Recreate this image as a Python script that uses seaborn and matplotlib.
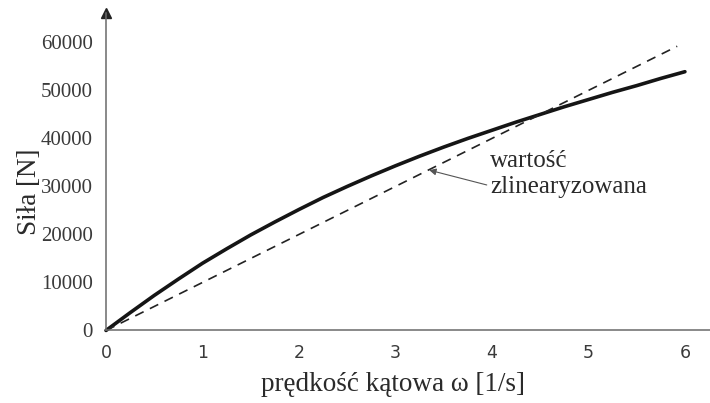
import matplotlib
matplotlib.use("Agg")
import matplotlib.pyplot as plt
import seaborn as sns
import pandas as pd

# angular velocity [1/s] and force [N]
omega = [0, 0.25, 0.5, 0.75, 1, 1.25, 1.5, 1.75, 2, 2.25, 2.5, 2.75, 3,
         3.25, 3.5, 3.75, 4, 4.25, 4.5, 4.75, 5, 5.25, 5.5, 5.75, 6]
force = [0, 3700, 7300, 10700, 14000, 17000, 19900, 22600, 25200, 27700, 30000, 32200, 34300,
         36300, 38200, 40000, 41700, 43400, 45000, 46600, 48100, 49600, 51000, 52500, 53900]

# linearised characteristic
lin_omega = [0, 5.92]
lin_force = [0, 59200]

x_ticks = [0, 1, 2, 3, 4, 5, 6]
y_ticks = [0, 10000, 20000, 30000, 40000, 50000, 60000]

sns.set_style("white")
plt.rcParams["font.family"] = ["Liberation Serif", "DejaVu Serif"]

fig = plt.figure(figsize=(7.10, 4.03), dpi=100)
ax = fig.add_axes([0.1493, 0.180, 0.8507, 0.788])

df = pd.DataFrame({"omega": omega, "force": force})
dfl = pd.DataFrame({"omega": lin_omega, "force": lin_force})

sns.lineplot(data=df, x="omega", y="force", ax=ax, color="#151515", lw=2.6, clip_on=False)
sns.lineplot(data=dfl, x="omega", y="force", ax=ax, color="#222222", lw=1.2,
             clip_on=False).lines[-1].set_dashes((5.6, 4.2))

ax.set_xlim(0, 6.26)
ax.set_ylim(0, 66150)

for s in ["top", "right"]:
    ax.spines[s].set_visible(False)
for s in ["left", "bottom"]:
    ax.spines[s].set_color("#6a6a6a")
    ax.spines[s].set_linewidth(1.1)

# arrow tip on the vertical axis
ax.plot([0], [1.0], marker="^", markersize=7, color="#222222",
        transform=ax.transAxes, clip_on=False)

ax.set_xticks(x_ticks)
ax.set_xticklabels([str(v) for v in x_ticks], family="DejaVu Sans", fontsize=12.5, color="#3a3a3a")
ax.set_yticks(y_ticks)
ax.set_yticklabels([str(v) for v in y_ticks], fontsize=15, color="#3a3a3a")
ax.tick_params(axis="x", direction="inout", length=7, width=1, color="#6a6a6a", pad=6)
ax.tick_params(axis="y", direction="inout", length=7, width=1, color="#6a6a6a", pad=6)

ax.set_xlabel("prędkość kątowa ω [1/s]", fontsize=19.5, color="#2a2a2a")
ax.set_ylabel("Siła [N]", fontsize=19.5, color="#2a2a2a")
ax.xaxis.set_label_coords(0.475, -0.132)
ax.yaxis.set_label_coords(-0.106, 0.436)

ax.annotate("wartość\nzlinearyzowana", xy=(3.35, 33400), xytext=(3.98, 32600),
            fontsize=18, color="#2a2a2a", ha="left", va="center", linespacing=1.2,
            arrowprops=dict(arrowstyle="-|>", color="#555555", lw=0.8,
                            mutation_scale=10, shrinkA=0, shrinkB=0,
                            relpos=(0.0, 0.25)))
ax.grid(False)

fig.savefig("out.png", dpi=100)
